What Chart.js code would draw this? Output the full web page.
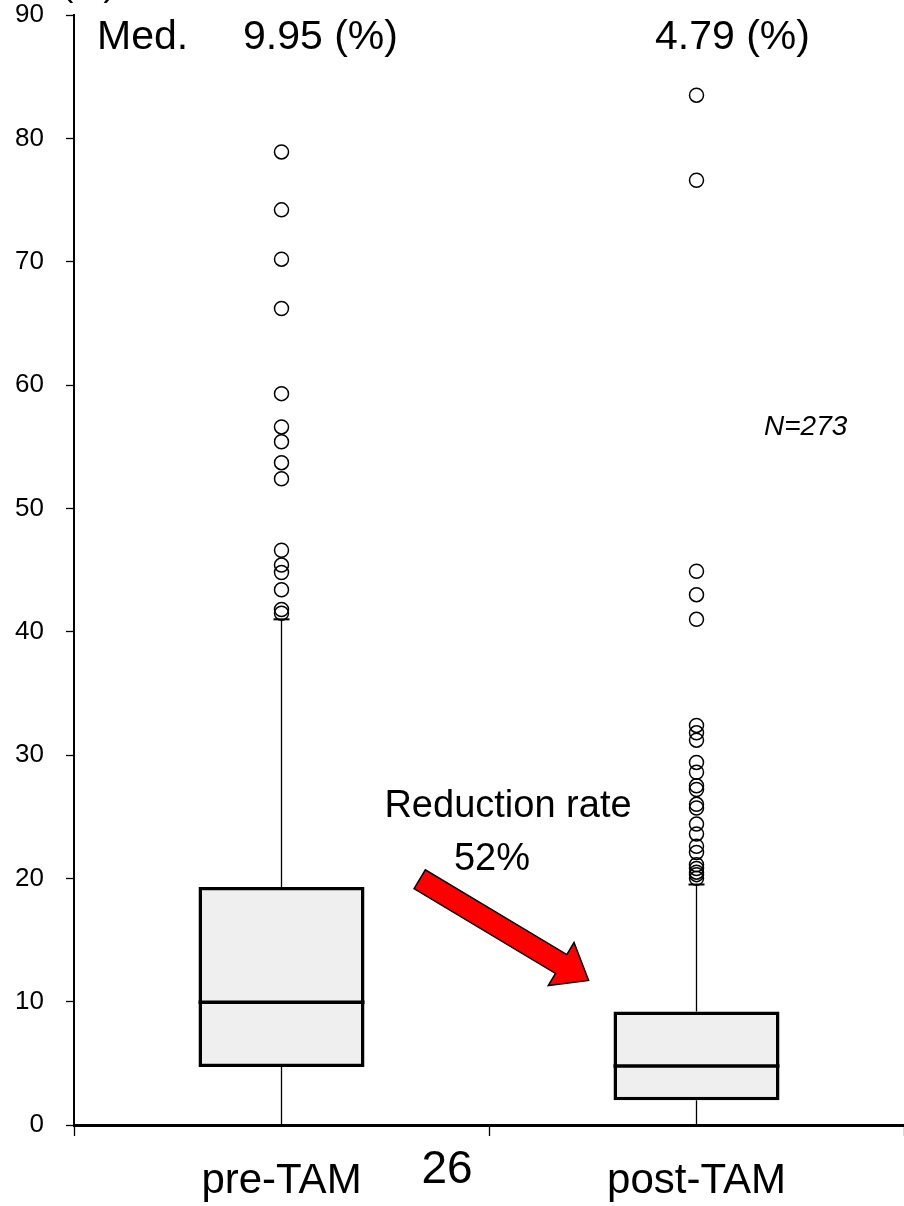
<!DOCTYPE html>
<html>
<head>
<meta charset="utf-8">
<script src="https://cdn.jsdelivr.net/npm/chart.js@4.4.1/dist/chart.umd.min.js"></script>
<style>
  html, body { margin: 0; padding: 0; background: #fff; overflow: hidden; }
  #wrap { position: relative; width: 904px; height: 1206px; }
</style>
</head>
<body>
<div id="wrap"><canvas id="box" width="904" height="1206"></canvas></div>
<script>
// ---------------------------------------------------------------------------
// Data
// ---------------------------------------------------------------------------
const categories = ['pre-TAM', 'post-TAM'];
const whiskerLow = [0, 0];
const q1 = [4.7, 2.0];
const median = [9.95, 4.79];
const q3 = [19.3, 9.2];
const whiskerHigh = [41.0, 19.5];

const preOutliers = [41.5, 41.8, 43.4, 44.8, 45.4, 46.6, 52.4, 53.7, 55.4, 56.6,
  59.3, 66.2, 70.2, 74.2, 78.9];
const postOutliers = [20.0, 20.3, 20.5, 20.8, 21.1, 22.1, 22.6, 23.6, 24.4, 25.7,
  26.0, 27.2, 27.5, 28.6, 29.4, 31.2, 31.8, 32.4, 41.0, 43.0, 44.9, 76.6, 83.5];

const yTickValues = [0, 10, 20, 30, 40, 50, 60, 70, 80, 90];

const medianLabels = ['9.95 (%)', '4.79 (%)'];

Chart.defaults.font.family = "'Liberation Sans', Arial, sans-serif";
Chart.defaults.color = '#000';

// ---------------------------------------------------------------------------
// Box-plot pieces the bar chart does not draw itself
// ---------------------------------------------------------------------------
const whiskerPlugin = {
  id: 'whiskers',
  beforeDatasetsDraw(chart) {
    const { ctx, scales: { x, y } } = chart;
    ctx.save();
    ctx.strokeStyle = '#000';
    categories.forEach((c, i) => {
      const px = x.getPixelForValue(i);
      ctx.lineWidth = 1.3;
      ctx.beginPath();
      ctx.moveTo(px, y.getPixelForValue(whiskerLow[i]));
      ctx.lineTo(px, y.getPixelForValue(q1[i]));
      ctx.moveTo(px, y.getPixelForValue(q3[i]));
      ctx.lineTo(px, y.getPixelForValue(whiskerHigh[i]));
      ctx.stroke();
      // cap at the upper whisker
      ctx.lineWidth = 2;
      ctx.beginPath();
      ctx.moveTo(px - 8, y.getPixelForValue(whiskerHigh[i]));
      ctx.lineTo(px + 8, y.getPixelForValue(whiskerHigh[i]));
      ctx.stroke();
    });
    ctx.restore();
  },
  afterDatasetsDraw(chart) {
    const { ctx, scales: { y } } = chart;
    const meta = chart.getDatasetMeta(0);
    ctx.save();
    ctx.strokeStyle = '#000';
    ctx.lineWidth = 3.5;
    meta.data.forEach((bar, i) => {
      const py = y.getPixelForValue(median[i]);
      ctx.beginPath();
      ctx.moveTo(bar.x - bar.width / 2, py);
      ctx.lineTo(bar.x + bar.width / 2, py);
      ctx.stroke();
    });
    ctx.restore();
  }
};

// ---------------------------------------------------------------------------
// Texts and the red arrow
// ---------------------------------------------------------------------------
const annotationPlugin = {
  id: 'notes',
  afterDraw(chart) {
    const { ctx, scales: { x, y } } = chart;
    ctx.save();
    ctx.fillStyle = '#000';
    ctx.textBaseline = 'alphabetic';

    // unit label, mostly cut off at the top edge
    ctx.font = '34px "Liberation Sans", Arial, sans-serif';
    ctx.textAlign = 'left';
    ctx.fillText('(%)', 62, -4);

    // medians at top
    ctx.font = '41px "Liberation Sans", Arial, sans-serif';
    ctx.fillText('Med.', 97, 49);
    ctx.fillText(medianLabels[0], 243, 49);
    ctx.fillText(medianLabels[1], 655, 49);

    // N
    ctx.font = 'italic 28px "Liberation Sans", Arial, sans-serif';
    ctx.fillText('N=273', 764, 435);

    // reduction rate
    ctx.font = '38px "Liberation Sans", Arial, sans-serif';
    ctx.textAlign = 'center';
    ctx.fillText('Reduction rate', 508, 817);
    ctx.fillText('52%', 492, 870);

    // page number
    ctx.font = '46px "Liberation Sans", Arial, sans-serif';
    ctx.fillText('26', 447, 1183);

    // arrow, placed in data units
    const tx = x.getPixelForValue(0.333), ty = y.getPixelForValue(19.93);
    const hx = x.getPixelForValue(0.74), hy = y.getPixelForValue(11.72);
    const dx = hx - tx, dy = hy - ty;
    const len = Math.hypot(dx, dy);
    const ux = dx / len, uy = dy / len;
    const nx = -uy, ny = ux;
    const shaft = 11, head = 25, headLen = 32;
    const neckX = hx - ux * headLen, neckY = hy - uy * headLen;
    ctx.beginPath();
    ctx.moveTo(tx + nx * shaft, ty + ny * shaft);
    ctx.lineTo(neckX + nx * shaft, neckY + ny * shaft);
    ctx.lineTo(neckX + nx * head, neckY + ny * head);
    ctx.lineTo(hx, hy);
    ctx.lineTo(neckX - nx * head, neckY - ny * head);
    ctx.lineTo(neckX - nx * shaft, neckY - ny * shaft);
    ctx.lineTo(tx - nx * shaft, ty - ny * shaft);
    ctx.closePath();
    ctx.fillStyle = '#ff0000';
    ctx.fill();
    ctx.strokeStyle = '#000';
    ctx.lineWidth = 1.5;
    ctx.lineJoin = 'miter';
    ctx.stroke();

    ctx.restore();
  }
};

// ---------------------------------------------------------------------------
// Chart
// ---------------------------------------------------------------------------
const outlierPoints = [
  ...preOutliers.map(v => ({ x: categories[0], y: v })),
  ...postOutliers.map(v => ({ x: categories[1], y: v }))
];

new Chart(document.getElementById('box'), {
  type: 'bar',
  data: {
    labels: categories,
    datasets: [
      {
        type: 'bar',
        data: q1.map((v, i) => [v, q3[i]]),
        backgroundColor: '#efefef',
        borderColor: '#000',
        borderWidth: 3.5,
        borderSkipped: false,
        barPercentage: 0.4,
        categoryPercentage: 1,
        order: 2
      },
      {
        type: 'line',
        data: outlierPoints,
        showLine: false,
        pointRadius: 7,
        pointBorderWidth: 1.5,
        pointBackgroundColor: 'rgba(0,0,0,0)',
        pointBorderColor: '#000',
        order: 1
      }
    ]
  },
  options: {
    responsive: false,
    animation: false,
    events: [],
    layout: { autoPadding: false, padding: { top: 15, right: -3, bottom: 0, left: 0 } },
    plugins: {
      legend: { display: false },
      tooltip: { enabled: false }
    },
    scales: {
      x: {
        offset: true,
        grid: {
          offset: true,
          drawOnChartArea: false,
          drawTicks: true,
          tickLength: 11,
          tickWidth: 1.3,
          tickColor: '#000'
        },
        border: { color: '#000', width: 3 },
        ticks: {
          padding: 20,
          font: { size: 42 },
          color: '#000'
        },
        afterFit(scale) {
          scale.height = 81;
          scale.paddingLeft = 0;
          scale.paddingRight = -3;
        }
      },
      y: {
        min: 0,
        max: 90,
        afterBuildTicks(scale) {
          scale.ticks = yTickValues.map(v => ({ value: v }));
        },
        grid: {
          drawOnChartArea: false,
          drawTicks: true,
          tickLength: 8,
          tickWidth: 1.3,
          tickColor: '#000'
        },
        border: { color: '#000', width: 2 },
        ticks: {
          padding: 22,
          font: { size: 26 },
          color: '#000'
        },
        afterFit(scale) {
          scale.width = 74;
          scale.paddingTop = 0;
          scale.paddingBottom = 0;
        }
      }
    }
  },
  plugins: [whiskerPlugin, annotationPlugin]
});
</script>
</body>
</html>
